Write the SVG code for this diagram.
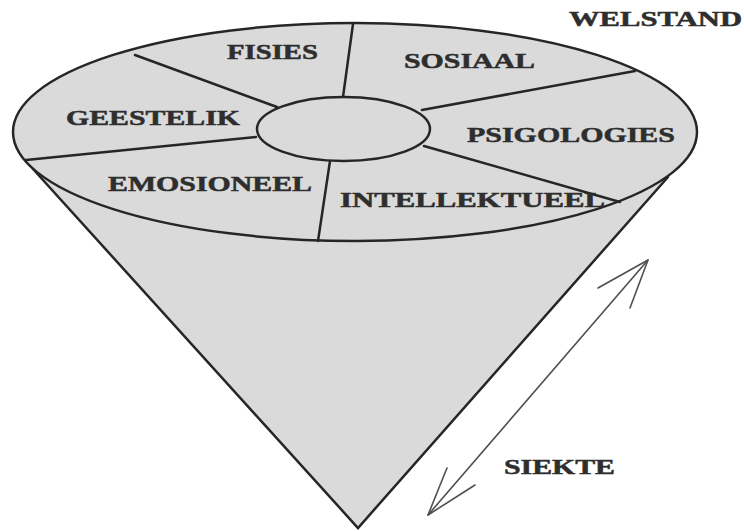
<svg xmlns="http://www.w3.org/2000/svg" width="744" height="531" viewBox="0 0 744 531">
<defs>
<style>
.lbl{font-family:"Liberation Serif","Times New Roman",serif;font-weight:bold;font-size:21px;fill:#2e2e2e;stroke:#2e2e2e;stroke-width:0.5;}
.edge{stroke:#262626;stroke-width:2.5;fill:none;stroke-linecap:round;}
.shape{fill:#dadada;stroke:#262626;stroke-width:2.5;}
.arr{stroke:#505050;stroke-width:1.6;fill:none;stroke-linecap:round;stroke-linejoin:round;}
</style>
</defs>
<rect width="744" height="531" fill="#ffffff"/>
<g id="cone">
<polygon points="33,169 358,528 668,177" fill="#dadada"/>
<path class="edge" d="M33,169 L358,528 L668,177"/>
</g>
<g id="wheel">
<ellipse class="shape" cx="355" cy="132" rx="342" ry="109"/>
<line class="edge" x1="353" y1="24" x2="343" y2="97"/>
<line class="edge" x1="135" y1="55" x2="277" y2="107"/>
<line class="edge" x1="26" y1="160" x2="256" y2="137"/>
<line class="edge" x1="330" y1="161" x2="318" y2="241"/>
<line class="edge" x1="422" y1="110" x2="635" y2="71"/>
<line class="edge" x1="424" y1="146" x2="620" y2="202"/>
</g>
<g id="centre">
<ellipse class="shape" cx="343.5" cy="129" rx="86.5" ry="32"/>
</g>
<g id="fisies"><text class="lbl" x="227" y="59" textLength="91" lengthAdjust="spacingAndGlyphs">FISIES</text></g>
<g id="sosiaal"><text class="lbl" x="404" y="68" textLength="131" lengthAdjust="spacingAndGlyphs">SOSIAAL</text></g>
<g id="geestelik"><text class="lbl" x="66" y="125" textLength="174" lengthAdjust="spacingAndGlyphs">GEESTELIK</text></g>
<g id="psigologies"><text class="lbl" x="467" y="142" textLength="208" lengthAdjust="spacingAndGlyphs">PSIGOLOGIES</text></g>
<g id="emosioneel"><text class="lbl" x="108" y="191" textLength="204" lengthAdjust="spacingAndGlyphs">EMOSIONEEL</text></g>
<g id="intellektueel"><text class="lbl" x="340" y="207" textLength="265" lengthAdjust="spacingAndGlyphs">INTELLEKTUEEL</text></g>
<g id="welstand"><text class="lbl" x="569" y="26" textLength="173" lengthAdjust="spacingAndGlyphs">WELSTAND</text></g>
<g id="siekte"><text class="lbl" x="504" y="474" textLength="111" lengthAdjust="spacingAndGlyphs">SIEKTE</text></g>
<g id="connectors">
<line class="arr" x1="428" y1="515" x2="648" y2="260"/>
<path class="arr" d="M598,288 L648,260 L630,308"/>
<path class="arr" d="M447,468 L428,515 L475,485"/>
</g>
</svg>
